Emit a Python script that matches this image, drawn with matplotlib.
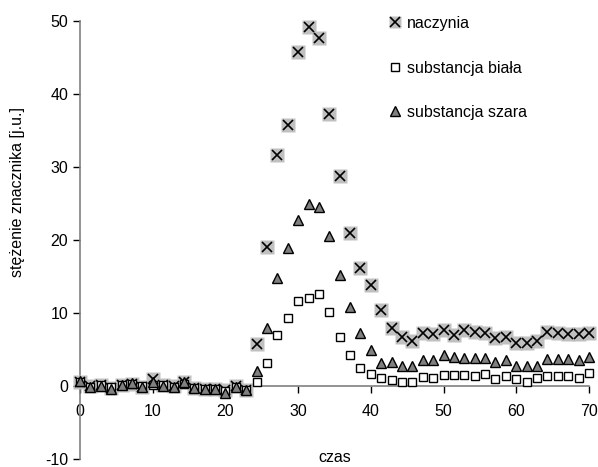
import matplotlib
matplotlib.use("Agg")
import matplotlib.pyplot as plt
from matplotlib.legend_handler import HandlerTuple
from matplotlib.lines import Line2D

plt.rcParams['font.family'] = ['Liberation Sans', 'DejaVu Sans']
plt.rcParams['axes.unicode_minus'] = False

czas = [0.0, 1.43, 2.86, 4.29, 5.71, 7.14, 8.57, 10.0, 11.43, 12.86,
        14.29, 15.71, 17.14, 18.57, 20.0, 21.43, 22.86, 24.29, 25.71, 27.14,
        28.57, 30.0, 31.43, 32.86, 34.29, 35.71, 37.14, 38.57, 40.0, 41.43,
        42.86, 44.29, 45.71, 47.14, 48.57, 50.0, 51.43, 52.86, 54.29, 55.71,
        57.14, 58.57, 60.0, 61.43, 62.86, 64.29, 65.71, 67.14, 68.57, 70.0]

naczynia = [0.6, 0.0, 0.1, -0.3, 0.1, 0.3, -0.1, 0.9, 0.1, 0.0,
            0.5, -0.3, -0.4, -0.4, -0.6, 0.0, -0.5, 5.7, 19.0, 31.6,
            35.7, 45.7, 49.2, 47.7, 37.3, 28.8, 21.0, 16.2, 13.9, 10.4,
            8.0, 6.7, 6.2, 7.3, 7.1, 7.7, 7.05, 7.65, 7.4, 7.3,
            6.6, 6.7, 5.9, 5.9, 6.2, 7.4, 7.2, 7.1, 7.1, 7.2]

biala = [0.5, -0.1, 0.1, -0.2, 0.1, 0.3, 0.0, 0.1, 0.1, -0.1,
         0.3, -0.3, -0.4, -0.4, -0.7, -0.2, -0.5, 0.6, 3.1, 7.05,
         9.3, 11.6, 12.1, 12.6, 10.2, 6.7, 4.3, 2.4, 1.6, 1.1,
         0.77, 0.54, 0.54, 1.27, 1.05, 1.5, 1.5, 1.5, 1.36, 1.6,
         1.0, 1.35, 0.9, 0.54, 1.1, 1.35, 1.35, 1.35, 1.1, 1.8]

szara = [0.7, -0.1, 0.0, -0.4, 0.1, 0.4, -0.1, 0.5, 0.0, -0.1,
         0.5, -0.3, -0.4, -0.4, -0.9, -0.2, -0.6, 2.05, 8.0, 14.8,
         18.9, 22.8, 24.9, 24.5, 20.6, 15.2, 10.8, 7.3, 5.0, 3.2,
         3.3, 2.7, 2.7, 3.6, 3.6, 4.2, 3.95, 3.8, 3.8, 3.8,
         3.3, 3.5, 2.7, 2.7, 2.7, 3.7, 3.7, 3.7, 3.5, 3.95]

labels = ["naczynia", "substancja biała", "substancja szara"]
xticks = [0, 10, 20, 30, 40, 50, 60, 70]
yticks = [-10, 0, 10, 20, 30, 40, 50]

FS = 11.5
fig = plt.figure(figsize=(5.98, 4.67), dpi=100)
top_px, bot_px = 21.0, 459.0
ax = fig.add_axes([80/598, 1-bot_px/467, (589-80)/598, (bot_px-top_px)/467])

ax.plot(czas, naczynia, ls='none', marker='s', ms=10, mfc='#c0c0c0',
        mec='none', clip_on=False, zorder=3)
ax.plot(czas, naczynia, ls='none', marker='x', ms=7, mec='black',
        mew=1.2, clip_on=False, zorder=4)
ax.plot(czas, biala, ls='none', marker='s', ms=5.5, mfc='white',
        mec='black', mew=1.0, clip_on=False, zorder=5)
ax.plot(czas, szara, ls='none', marker='^', ms=7, mfc='#808080',
        mec='black', mew=1.0, clip_on=False, zorder=6)

ax.set_xlim(0, 70)
ax.set_ylim(-10, 50)
ax.set_xticks(xticks)
ax.set_yticks(yticks)
ax.tick_params(labelsize=FS, length=5, width=1, color='black', direction='out')
ax.tick_params(axis='x', pad=8)
for s in ['top', 'right']:
    ax.spines[s].set_visible(False)
ax.spines['bottom'].set_position(('data', 0))
ax.spines['left'].set_color('#808080')
ax.spines['bottom'].set_color('#808080')
ax.spines['left'].set_linewidth(1.2)
ax.spines['bottom'].set_linewidth(1.2)

ax.set_xlabel("czas", fontsize=FS)
ax.xaxis.set_label_coords(0.5, 0.02)
ax.set_ylabel("stężenie znacznika [j.u.]", fontsize=FS)
ax.yaxis.set_label_coords(-0.108, 0.61)

bg_l = Line2D([], [], ls='none', marker='s', ms=9, mfc='#c0c0c0', mec='none')
xm_l = Line2D([], [], ls='none', marker='x', ms=7, mec='black', mew=1.2)
sq_l = Line2D([], [], ls='none', marker='s', ms=5.5, mfc='white', mec='black', mew=1.0)
tr_l = Line2D([], [], ls='none', marker='^', ms=7, mfc='#808080', mec='black', mew=1.0)
leg = ax.legend([(bg_l, xm_l), sq_l, tr_l], labels,
                handler_map={tuple: HandlerTuple(ndivide=1, pad=0)},
                loc='upper left', bbox_to_anchor=(380/598, 1-8/467),
                bbox_transform=fig.transFigure, frameon=False,
                fontsize=FS, labelspacing=1.85, handlelength=0.9,
                handletextpad=0.3, borderpad=0)

fig.savefig("out.png", dpi=100)
